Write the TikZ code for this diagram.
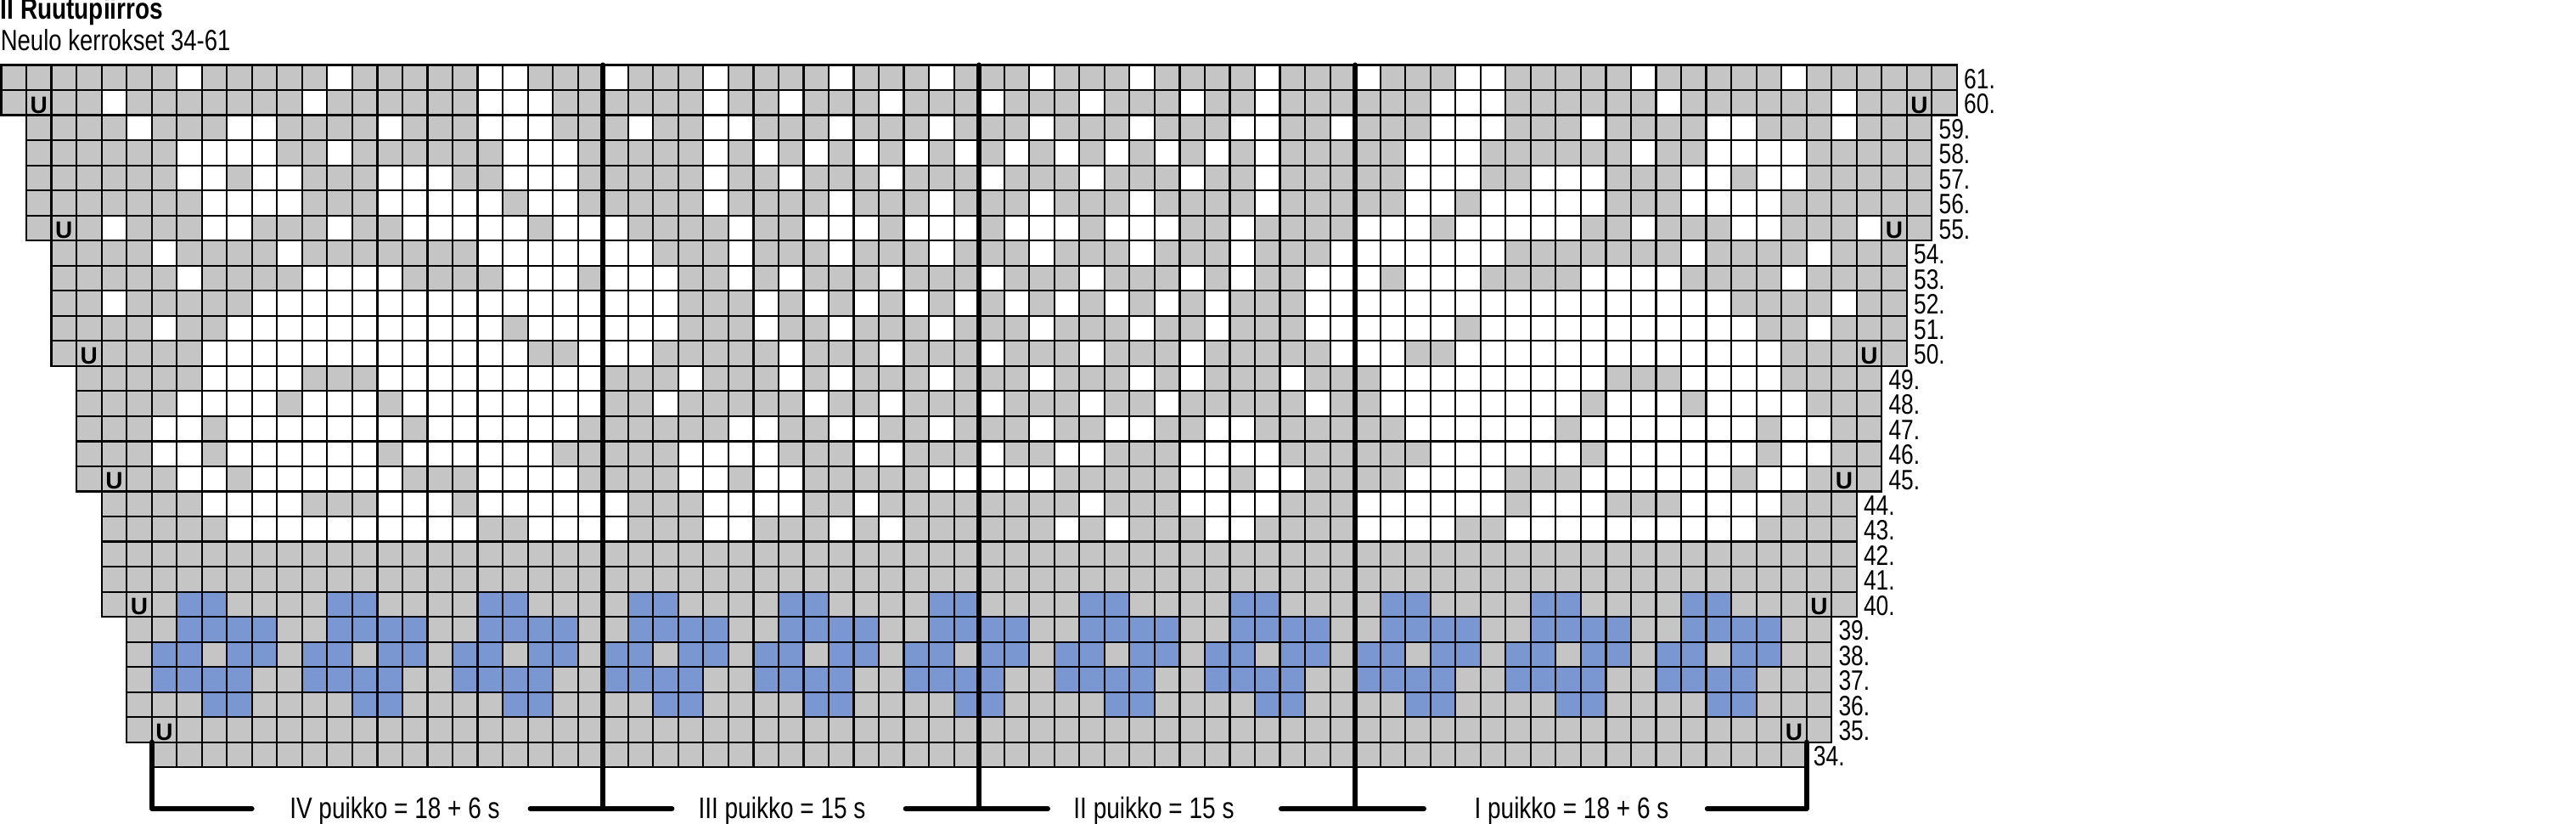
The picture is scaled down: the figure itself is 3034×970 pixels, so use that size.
\documentclass[tikz,border=0pt]{standalone}
\usepackage{fontspec}
\setmainfont{Liberation Sans}[FakeStretch=0.8]
\newfontfamily\ufont{Liberation Sans}
\definecolor{cg}{RGB}{197,197,197}
\definecolor{cb}{RGB}{122,151,209}
\tikzset{
  gcell/.style={fill=cg, draw=black, line width=0.55pt},
  wcell/.style={fill=white, draw=black, line width=0.55pt},
  bcell/.style={fill=cb, draw=black, line width=0.55pt},
  heavy/.style={line width=1.5pt, line cap=round, line join=round},
  rowlab/.style={anchor=base west, inner sep=0pt, font=\fontsize{8.25pt}{9pt}\selectfont},
  ulab/.style={anchor=base, inner sep=0pt, font=\ufont\bfseries\fontsize{7pt}{8pt}\selectfont},
  puik/.style={anchor=base, inner sep=0pt, font=\fontsize{8.75pt}{10pt}\selectfont},
  ttl/.style={anchor=base west, inner sep=0pt, font=\bfseries\fontsize{8.75pt}{10pt}\selectfont},
  sub/.style={anchor=base west, inner sep=0pt, font=\fontsize{8.6pt}{10pt}\selectfont}
}
\begin{document}
\begin{tikzpicture}[x=0.25pt,y=-0.25pt]
\useasboundingbox (0,0) rectangle (3034,970);
% grey base cells
\foreach \r/\a/\b in {61/0/77,60/0/77,59/1/76,58/1/76,57/1/76,56/1/76,55/1/76,54/2/75,53/2/75,52/2/75,51/2/75,50/2/75,49/3/74,48/3/74,47/3/74,46/3/74,45/3/74,44/4/73,43/4/73,42/4/73,41/4/73,40/4/73,39/5/72,38/5/72,37/5/72,36/5/72,35/5/72,34/6/71}{
  \pgfmathsetmacro\yy{76.5+(61-\r)*29.53}
  \foreach \c in {\a,...,\b}{
    \pgfmathsetmacro\xx{1.5+\c*29.53}
    \path[gcell] (\xx,\yy) rectangle ++(29.53,29.53);
  }
  \pgfmathsetmacro\lx{1.5+(\b+1)*29.53+7.5}
  \pgfmathsetmacro\ly{\yy+29.53-2}
  \node[rowlab] (lab\r) at (\lx,\ly) {\r.};
}
% white cells
\foreach \r/\p/\q in {
61/7/7,61/13/13,61/19/20,61/24/24,61/28/28,61/33/33,61/37/37,61/41/41,61/45/45,61/50/50,61/54/54,61/58/59,61/65/65,61/71/71,
60/4/4,60/12/12,60/19/21,60/28/28,60/31/31,60/35/35,60/39/39,60/43/43,60/47/47,60/50/50,60/57/59,60/66/66,60/73/73,
59/5/5,59/9/10,59/15/15,59/19/21,59/25/25,59/28/29,59/33/33,59/37/37,59/41/41,59/45/45,59/49/50,59/53/53,59/57/59,59/63/63,59/68/69,59/73/73,
58/7/10,58/13/13,58/20/22,58/28/28,58/30/30,58/32/32,58/34/34,58/36/36,58/38/38,58/40/40,58/42/42,58/44/44,58/46/46,58/48/48,58/50/50,58/56/58,58/65/65,58/68/71,
57/7/8,57/10/11,57/15/17,57/20/22,57/28/28,57/31/31,57/35/35,57/39/39,57/43/43,57/47/47,57/50/50,57/56/58,57/61/63,57/67/68,57/70/71,
56/8/11,56/15/19,56/21/22,56/28/28,56/33/33,56/37/37,56/41/41,56/45/45,56/50/50,56/56/57,56/59/63,56/67/70,
55/4/4,55/8/9,55/13/13,55/16/20,55/22/24,55/29/29,55/32/34,55/36/38,55/40/42,55/44/46,55/49/49,55/54/56,55/58/62,55/65/65,55/69/70,55/74/74,
54/6/6,54/11/11,54/19/25,54/29/29,54/33/33,54/37/37,54/41/41,54/45/45,54/49/49,54/53/59,54/67/67,54/72/72,
53/7/7,53/12/15,53/20/22,53/24/26,53/29/29,53/31/31,53/35/35,53/39/39,53/43/43,53/47/47,53/49/49,53/52/54,53/56/58,53/63/66,53/71/71,
52/4/4,52/10/26,52/30/30,52/32/32,52/34/34,52/36/36,52/38/38,52/40/40,52/42/42,52/44/44,52/46/46,52/48/48,52/52/68,52/73/73,
51/6/6,51/9/19,51/21/26,51/30/30,51/33/33,51/37/37,51/41/41,51/45/45,51/48/48,51/52/57,51/59/69,51/72/72,
50/8/20,50/23/25,50/31/31,50/35/35,50/39/39,50/43/43,50/47/47,50/53/55,50/58/70,
49/8/11,49/15/23,49/27/27,49/31/31,49/33/33,49/37/37,49/41/41,49/45/45,49/47/47,49/51/51,49/55/63,49/67/70,
48/7/10,48/12/14,48/16/23,48/26/26,48/32/32,48/35/35,48/39/39,48/43/43,48/46/46,48/52/52,48/55/62,48/64/66,48/68/71,
47/6/7,47/9/15,47/17/22,47/29/30,47/33/34,47/37/37,47/41/41,47/44/45,47/48/49,47/56/61,47/63/69,47/71/72,
46/6/7,46/9/14,46/16/21,46/27/30,46/34/35,46/39/39,46/42/43,46/47/50,46/57/62,46/64/69,46/71/72,
45/7/8,45/10/15,45/19/22,45/27/28,45/30/31,45/37/41,45/47/48,45/50/51,45/56/59,45/63/68,45/70/71,
44/8/11,44/15/17,44/19/24,44/28/31,44/34/34,44/43/43,44/47/50,44/54/59,44/61/63,44/67/70,
43/9/18,43/21/24,43/28/29,43/33/33,43/35/35,43/42/42,43/44/44,43/48/49,43/54/57,43/60/69}{
  \pgfmathsetmacro\yy{76.5+(61-\r)*29.53}
  \foreach \c in {\p,...,\q}{
    \pgfmathsetmacro\xx{1.5+\c*29.53}
    \path[wcell] (\xx,\yy) rectangle ++(29.53,29.53);
  }
}
% blue flowers
\foreach \k in {7,13,...,67}{
  \foreach \r/\o in {40/0,40/1,39/0,39/1,39/2,39/3,38/-1,38/0,38/2,38/3,37/-1,37/0,37/1,37/2,36/1,36/2}{
    \pgfmathsetmacro\yy{76.5+(61-\r)*29.53}
    \pgfmathsetmacro\xx{1.5+(\k+\o)*29.53}
    \path[bcell] (\xx,\yy) rectangle ++(29.53,29.53);
  }
}
% decreases
\foreach \r/\c in {60/1,60/76,55/2,55/75,50/3,50/74,45/4,45/73,40/5,40/72,35/6,35/71}{
  \pgfmathsetmacro\xx{1.5+(\c+0.5)*29.53}
  \pgfmathsetmacro\yy{76.5+(62-\r)*29.53-2.5}
  \node[ulab] (u\r-\c) at (\xx,\yy) {U};
}
% titles
\node[ttl] (title) at (0,23) {II Ruutupiirros};
\node[sub] (subtitle) at (0,60) {Neulo kerrokset 34-61};
% needle division lines
\coordinate (v24t) at (710.2,76.5);  \coordinate (v24b) at (710.2,952);
\coordinate (v39t) at (1153.2,76.5); \coordinate (v39b) at (1153.2,952);
\coordinate (v54t) at (1596.1,76.5); \coordinate (v54b) at (1596.1,952);
\draw[heavy] (v24t) -- (v24b);
\draw[heavy] (v39t) -- (v39b);
\draw[heavy] (v54t) -- (v54b);
% bottom labels
\node[puik] (pIV) at (465,964) {IV puikko = 18 + 6 s};
\node[puik] (pIII) at (921,964) {III puikko = 15 s};
\node[puik] (pII) at (1359,964) {II puikko = 15 s};
\node[puik] (pI) at (1851,964) {I puikko = 18 + 6 s};
% brackets
\coordinate (lt) at (178.7,873.8); \coordinate (lc) at (178.7,952); \coordinate (le) at (296.6,952);
\coordinate (s2a) at (624.6,952); \coordinate (s2b) at (791.4,952);
\coordinate (s3a) at (1066.7,952); \coordinate (s3b) at (1234,952);
\coordinate (s4a) at (1509,952); \coordinate (s4b) at (1677,952);
\coordinate (ra) at (2010.8,952); \coordinate (rc) at (2127.7,952); \coordinate (rt) at (2127.7,873.8);
\draw[heavy] (lt) -- (lc) -- (le);
\draw[heavy] (s2a) -- (s2b);
\draw[heavy] (s3a) -- (s3b);
\draw[heavy] (s4a) -- (s4b);
\draw[heavy] (ra) -- (rc) -- (rt);
\end{tikzpicture}
\end{document}
